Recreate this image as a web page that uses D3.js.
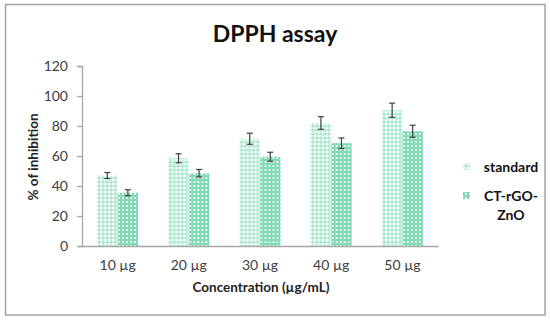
<!DOCTYPE html>
<html><head><meta charset="utf-8">
<script src="https://cdn.jsdelivr.net/npm/d3@7"></script>
<style>body{margin:0;background:#fff}svg{display:block}text{font-family:Lato,"Open Sans",sans-serif}</style>
</head><body>
<svg id="c" width="550" height="321"></svg>
<script>
const categories = ["10 µg","20 µg","30 µg","40 µg","50 µg"];
const seriesNames = ["standard","CT-rGO-ZnO"];
const standardValues = [47, 58.5, 71.5, 82, 90.5];
const standardErrors = [2, 3, 3.7, 4.2, 4.7];
const ctValues = [35.5, 48.5, 59.5, 68.5, 76.5];
const ctErrors = [2, 2.5, 3, 3.5, 4];
const yTicks = [0,20,40,60,80,100,120];

const svg = d3.select("#c");
const defs = svg.append("defs");
const p1 = defs.append("pattern").attr("id","pStd").attr("patternUnits","userSpaceOnUse").attr("width",4).attr("height",4);
p1.append("rect").attr("width",4).attr("height",4).attr("fill","#fff");
p1.append("rect").attr("x",0).attr("y",1.5).attr("width",4).attr("height",1.3).attr("fill","#a3e5c9");
p1.append("rect").attr("x",1.5).attr("y",0).attr("width",1.3).attr("height",4).attr("fill","#a3e5c9");
const p2 = defs.append("pattern").attr("id","pCt").attr("patternUnits","userSpaceOnUse").attr("width",4).attr("height",4);
p2.append("rect").attr("width",4).attr("height",4).attr("fill","#66d2a5");
p2.append("circle").attr("cx",2).attr("cy",2).attr("r",1.25).attr("fill","#f2fcf7");
[[0,0],[4,0],[0,4],[4,4]].forEach(([cx,cy])=>p2.append("circle").attr("cx",cx).attr("cy",cy).attr("r",0.75).attr("fill","#c4f0dd"));

svg.append("rect").attr("x",5.5).attr("y",4.5).attr("width",539.5).attr("height",310.5)
  .attr("fill","none").attr("stroke","#a3a3a3").attr("stroke-width",1.5);

const y = d3.scaleLinear().domain([0,120]).range([246,66]);
const x = d3.scaleBand().domain(categories).range([82,438]).paddingInner(0.424).paddingOuter(0.212);
const x1 = d3.scaleBand().domain(seriesNames).range([0,x.bandwidth()]);

const data = categories.map((c,i)=>({c, vals:[
  {s:seriesNames[0], v:standardValues[i], e:standardErrors[i], fill:"url(#pStd)"},
  {s:seriesNames[1], v:ctValues[i], e:ctErrors[i], fill:"url(#pCt)"}]}));

const g = svg.append("g").selectAll("g").data(data).join("g")
  .attr("transform",d=>`translate(${x(d.c)},0)`);
g.selectAll("rect").data(d=>d.vals).join("rect")
  .attr("x",d=>x1(d.s)).attr("width",x1.bandwidth())
  .attr("y",d=>y(d.v)).attr("height",d=>y(0)-y(d.v)).attr("fill",d=>d.fill);
const eb = g.selectAll("g.eb").data(d=>d.vals).join("g").attr("class","eb")
  .attr("stroke","#404040").attr("stroke-width",1.2);
eb.append("line").attr("x1",d=>x1(d.s)+x1.bandwidth()/2).attr("x2",d=>x1(d.s)+x1.bandwidth()/2)
  .attr("y1",d=>y(d.v+d.e)).attr("y2",d=>y(d.v-d.e));
eb.append("line").attr("x1",d=>x1(d.s)+x1.bandwidth()/2-3).attr("x2",d=>x1(d.s)+x1.bandwidth()/2+3)
  .attr("y1",d=>y(d.v+d.e)).attr("y2",d=>y(d.v+d.e));
eb.append("line").attr("x1",d=>x1(d.s)+x1.bandwidth()/2-3).attr("x2",d=>x1(d.s)+x1.bandwidth()/2+3)
  .attr("y1",d=>y(d.v-d.e)).attr("y2",d=>y(d.v-d.e));

const ya = svg.append("g").attr("transform","translate(82,0)")
  .call(d3.axisLeft(y).tickValues(yTicks).tickSize(5).tickPadding(9));
ya.select(".domain").attr("stroke","#a6a6a6").attr("stroke-width",1.3);
ya.selectAll(".tick line").attr("stroke","#a6a6a6").attr("stroke-width",1.3);
ya.selectAll("text").attr("font-size",14).attr("fill","#404040").attr("font-family","Lato,sans-serif");
const xa = svg.append("g").attr("transform","translate(0,246)")
  .call(d3.axisBottom(x).tickSize(0).tickPadding(14));
xa.select(".domain").attr("stroke","#a6a6a6").attr("stroke-width",1.5);
xa.selectAll("text").attr("font-size",14).attr("fill","#404040").attr("font-family","Lato,sans-serif");

svg.append("text").attr("x",275).attr("y",42).attr("text-anchor","middle")
  .attr("font-size",23).attr("font-weight","bold").attr("fill","#111").text("DPPH assay");
svg.append("text").attr("x",261).attr("y",292).attr("text-anchor","middle")
  .attr("font-size",13.5).attr("font-weight","bold").attr("fill","#222").text("Concentration (µg/mL)");
svg.append("text").attr("transform","translate(38,157) rotate(-90)").attr("text-anchor","middle")
  .attr("font-size",13.5).attr("font-weight","bold").attr("fill","#222").text("% of inhibition");

// legend
const leg = [{fill:"url(#pStd)", lines:["standard"], y:172},{fill:"url(#pCt)", lines:["CT-rGO-","ZnO"], y:201}];
leg.forEach(l=>{
  svg.append("rect").attr("x",463).attr("y",l.y-9).attr("width",7).attr("height",7).attr("fill",l.fill);
  const t = svg.append("text").attr("x",511).attr("y",l.y).attr("text-anchor","middle")
    .attr("font-size",14).attr("font-weight","bold").attr("fill","#111");
  l.lines.forEach((s,i)=>t.append("tspan").attr("x",511).attr("dy",i?19:0).text(s));
});
</script>
</body></html>
